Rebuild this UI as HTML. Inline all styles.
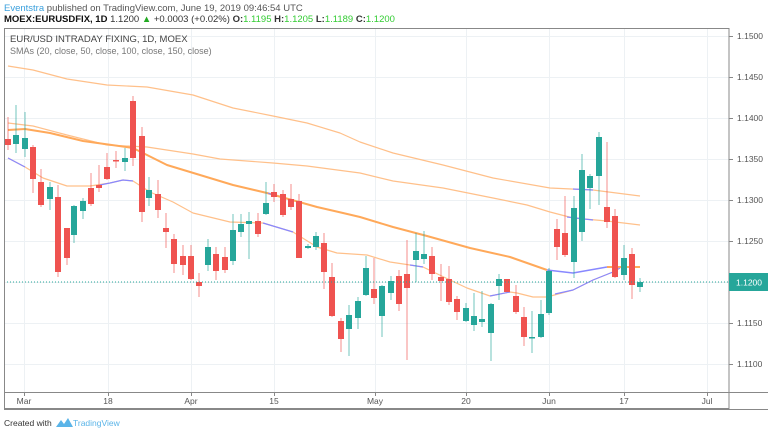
<!DOCTYPE html>
<html><head><meta charset="utf-8"><style>
body{margin:0;width:768px;height:434px;background:#fff;overflow:hidden;font-family:"Liberation Sans",sans-serif}
</style></head><body>
<svg id="s" width="768" height="434" xmlns="http://www.w3.org/2000/svg" font-family="Liberation Sans, sans-serif">
<text x="4" y="11" font-size="9.5" fill="#555"><tspan fill="#3aa0dd">Eventstra</tspan> published on TradingView.com, June 19, 2019 09:46:54 UTC</text>
<text x="4" y="22" font-size="9.5" fill="#333"><tspan font-weight="bold" fill="#111">MOEX:EURUSDFIX, 1D</tspan> 1.1200 <tspan fill="#2a2">▲</tspan> +0.0003 (+0.02%) <tspan font-weight="bold">O:</tspan><tspan fill="#3c3">1.1195</tspan> <tspan font-weight="bold">H:</tspan><tspan fill="#3c3">1.1205</tspan> <tspan font-weight="bold">L:</tspan><tspan fill="#3c3">1.1189</tspan> <tspan font-weight="bold">C:</tspan><tspan fill="#3c3">1.1200</tspan></text>
<g id="grid"></g>
<g id="smas" fill="none"></g>
<g id="c"></g>
<line x1="4" y1="282" x2="729" y2="282" stroke="#26a69a" stroke-width="1" stroke-dasharray="1,2"/>
<rect x="4.5" y="28.5" width="724.5" height="380" fill="none" stroke="#888" stroke-width="1"/>
<line x1="4" y1="392.5" x2="768" y2="392.5" stroke="#888"/>
<line x1="4" y1="409.5" x2="768" y2="409.5" stroke="#888"/>
<text x="10" y="42" font-size="9.5" fill="#444">EUR/USD INTRADAY FIXING, 1D, MOEX</text>
<text x="10" y="54" font-size="9" fill="#777">SMAs (20, close, 50, close, 100, close, 150, close)</text>
<g id="ax" font-size="8.5" fill="#555"></g>
<rect x="729" y="273" width="39" height="18" fill="#26a69a"/>
<text x="736" y="285.5" font-size="8.5" fill="#fff">1.1200</text>
<text x="4" y="426" font-size="8.5" fill="#333">Created with</text>
<path d="M56 427 l5 -7 l3 4 l4 -6 l5 9 z" fill="#5ab4e8"/>
<text x="73" y="426" font-size="8.5" fill="#5ab4e8">TradingView</text>
</svg>
<script>
const NS="http://www.w3.org/2000/svg";
function el(p,t,a){const e=document.createElementNS(NS,t);for(const k in a)e.setAttribute(k,a[k]);document.getElementById(p).appendChild(e);return e;}
const ys=[36,77,118,159,200,241,323,364],lab=["1.1500","1.1450","1.1400","1.1350","1.1300","1.1250","1.1150","1.1100"];
ys.forEach((y,i)=>{el("grid","line",{x1:5,x2:729,y1:y+.5,y2:y+.5,stroke:"#edf1f4"});el("ax","line",{x1:729,x2:733,y1:y+.5,y2:y+.5,stroke:"#888"});const t=el("ax","text",{x:737,y:y+3});t.textContent=lab[i];});
el("grid","line",{x1:5,x2:729,y1:282.5,y2:282.5,stroke:"#edf1f4"});
const xs=[[24,"Mar"],[108,"18"],[191,"Apr"],[274,"15"],[375,"May"],[466,"20"],[549,"Jun"],[624,"17"],[707,"Jul"]];
xs.forEach(([x,l])=>{el("grid","line",{x1:x+.5,x2:x+.5,y1:29,y2:392,stroke:"#edf1f4"});el("ax","line",{x1:x+.5,x2:x+.5,y1:392,y2:396,stroke:"#888"});const t=el("ax","text",{x:x,y:404,"text-anchor":"middle"});t.textContent=l;});
function pl(pts,c,w){el("smas","polyline",{points:pts.map(p=>p.join(",")).join(" "),stroke:c,"stroke-width":w,"stroke-linejoin":"round"});}
const O="#ffc08a",OT="#ffa95a",B="#8888ff";
pl([[8,66],[33,70],[67,79],[107,85],[147,87],[193,95],[233,108],[273,116],[307,123],[340,133],[360,142],[393,153],[443,165],[493,178],[550,188],[593,190],[640,196]],O,1.2);
pl([[8,123],[33,126],[67,135],[107,145],[147,147],[193,154],[220,159],[273,163],[307,166],[360,173],[393,181],[443,188],[493,198],[527,205],[550,212],[573,218],[607,221],[640,225]],O,1.2);
pl([[8,130],[25,129],[50,133],[83,141],[133,148],[167,165],[200,175],[233,185],[267,193],[317,207],[343,213],[360,217],[393,227],[427,236],[470,248],[510,257],[547,270]],OT,2);
pl([[547,270],[573,273],[607,267]],B,1.5);pl([[607,267],[640,267]],OT,2);
pl([[8,158],[25,167],[43,178],[67,186],[90,186],[110,183],[123,180],[133,181],[150,192],[173,202],[193,213],[230,222],[263,223],[293,232],[317,247],[337,253],[367,255],[390,262],[410,265],[423,267],[450,280],[467,288],[490,296],[510,292],[517,293],[533,297],[547,297],[573,290],[593,280],[613,272],[620,268]],O,1.2);
[[[8,158],[25,167]],[[100,185],[110,183],[123,180],[133,181]],[[263,223],[293,232]],[[410,265],[423,267]],[[490,296],[510,292]],[[555,294],[573,290],[593,280],[613,272],[620,268]],[[268,193],[275,196]],[[567,217],[593,220]],[[573,189],[593,190]]].forEach(p=>pl(p,B,1.2));
const C=[[8,139,145,117,150,"r"],[16,135,144,105,153,"g"],[25,138,149,112,157,"g"],[33,147,179,145,193,"r"],[41,182,205,169,207,"r"],[50,187,199,182,210,"g"],[58,197,272,185,277,"r"],[67,228,258,228,265,"r"],[74,206,235,205,243,"g"],[83,201,211,198,219,"g"],[91,188,204,173,206,"r"],[99,185,188,165,192,"r"],[107,167,179,153,180,"r"],[116,160,161,151,168,"r"],[125,158,162,148,171,"g"],[133,101,158,96,166,"r"],[142,136,212,127,222,"r"],[149,190,198,177,206,"g"],[158,194,210,180,218,"r"],[166,228,232,213,248,"r"],[174,239,264,234,273,"r"],[183,256,265,245,275,"r"],[191,256,279,245,280,"r"],[199,282,286,273,297,"r"],[208,247,265,239,271,"g"],[216,254,271,247,280,"r"],[225,257,270,247,273,"r"],[233,230,261,214,265,"g"],[241,224,232,214,237,"g"],[249,221,224,212,259,"g"],[258,221,234,213,237,"r"],[266,203,214,182,215,"g"],[274,192,197,184,202,"r"],[283,194,215,190,217,"r"],[291,199,207,184,210,"r"],[299,201,258,194,258,"r"],[308,246,248,244,249,"g"],[316,236,247,232,250,"g"],[324,243,272,233,289,"r"],[332,277,316,263,317,"r"],[341,321,339,318,352,"r"],[349,315,329,305,356,"g"],[358,301,318,297,329,"g"],[366,268,295,256,296,"g"],[374,289,298,258,304,"r"],[382,286,316,285,337,"g"],[391,281,293,276,300,"g"],[399,276,304,270,311,"r"],[407,274,288,240,360,"r"],[416,251,260,233,282,"g"],[424,254,259,231,264,"g"],[432,256,274,247,280,"r"],[441,277,281,264,301,"r"],[449,279,302,266,305,"r"],[457,299,312,296,320,"r"],[466,308,321,303,322,"g"],[474,316,325,293,331,"g"],[482,319,322,291,327,"g"],[491,304,333,303,361,"g"],[499,279,286,274,300,"g"],[507,279,292,279,292,"r"],[516,296,312,285,314,"r"],[524,317,337,307,346,"r"],[532,337,338,311,353,"g"],[541,314,337,300,338,"g"],[549,271,313,268,315,"g"],[557,229,247,219,260,"r"],[565,233,255,196,257,"r"],[574,208,262,196,278,"g"],[582,170,232,154,241,"g"],[590,176,188,174,209,"g"],[599,137,176,132,205,"g"],[607,207,222,142,228,"r"],[615,216,277,209,278,"r"],[624,258,275,245,280,"g"],[632,254,285,248,299,"r"],[640,282,287,278,292,"g"]];
C.forEach(([x,bt,bb,wt,wb,c])=>{const col=c=="r"?"#ef5350":"#26a69a";el("c","line",{x1:x,x2:x,y1:wt,y2:wb,stroke:col,"stroke-opacity":.55,"stroke-width":1.2});el("c","rect",{x:x-3,y:bt,width:6,height:Math.max(bb-bt,1.5),fill:col});});
</script>
</body></html>
